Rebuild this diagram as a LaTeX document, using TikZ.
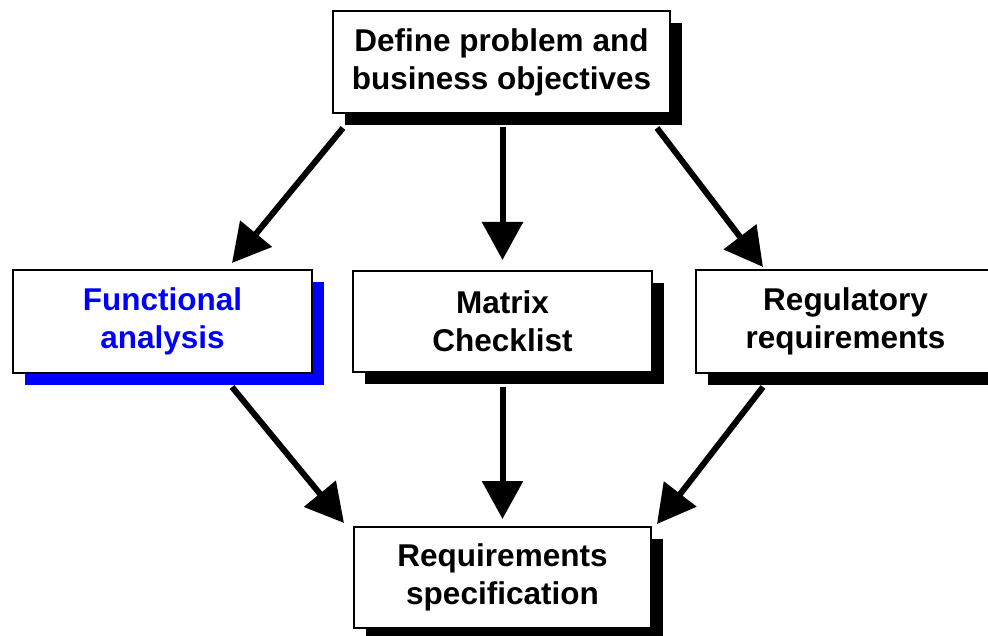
\documentclass[tikz,border=0pt]{standalone}
\usepackage{fontspec}
\setmainfont{Liberation Sans}
\usetikzlibrary{arrows.meta,shadows}
\definecolor{pureblue}{RGB}{0,0,255}
\tikzset{
  box/.style={draw=black, line width=2.6pt, fill=white, rectangle, outer sep=0pt,
    align=center, font=\bfseries\fontsize{31.5}{38}\selectfont, text=black,
    drop shadow={shadow xshift=12pt, shadow yshift=-12pt, fill=black, opacity=1}},
  flow/.style={line width=6pt, -{Triangle[length=38pt,width=40pt]}}
}
\begin{document}
\begin{tikzpicture}[x=1pt,y=1pt]
\clip (0,0) rectangle (988,-636);
\fill[white] (0,0) rectangle (988,-636);

\node[box, minimum width=337pt, minimum height=102pt] (top) at (501.5,-62) {Define problem and\\business objectives};
\node[box, minimum width=299pt, minimum height=103pt, text=pureblue,
  drop shadow={shadow xshift=12pt, shadow yshift=-12pt, fill=pureblue, opacity=1}] (func) at (162.5,-321.5) {Functional\\analysis};
\node[box, minimum width=299pt, minimum height=101pt] (matrix) at (502.5,-321.5) {Matrix\\Checklist};
\node[box, minimum width=299pt, minimum height=103pt] (reg) at (845.5,-321.5) {Regulatory\\requirements};
\node[box, minimum width=297pt, minimum height=101pt] (req) at (502.5,-577.5) {Requirements\\specification};

\draw[flow] ([shift={(10,-15)}]top.south west) -- ([shift={(-80,7)}]func.north east);
\draw[flow] ([shift={(1,-14)}]top.south) -- ([shift={(0,11)}]matrix.north);
\draw[flow] ([shift={(-13,-15)}]top.south east) -- ([shift={(67,3)}]reg.north west);

\draw[flow] ([shift={(69.5,-14)}]func.south) -- ([shift={(-10,4)}]req.north west);
\draw[flow] ([shift={(0,-15)}]matrix.south) -- ([shift={(0,8)}]req.north);
\draw[flow] ([shift={(67,-14)}]reg.south west) -- ([shift={(6,3)}]req.north east);
\end{tikzpicture}
\end{document}
